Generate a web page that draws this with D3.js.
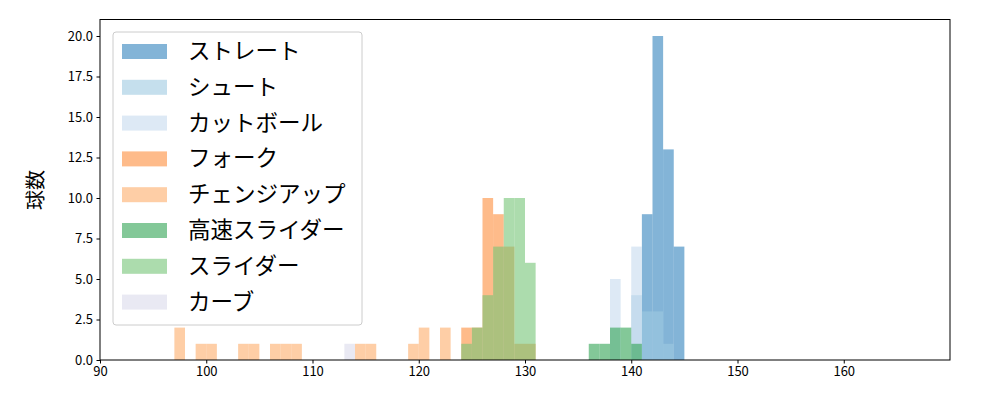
<!DOCTYPE html><html><head><meta charset="utf-8"><script src="https://cdn.jsdelivr.net/npm/d3@7"></script>
<style>body{margin:0;background:#fff}text{font-family:"Noto Sans CJK JP","DejaVu Sans",sans-serif}</style></head><body><svg id="c" width="1000" height="400"></svg><script>
const seriesNames=["ストレート","シュート","カットボール","フォーク","チェンジアップ","高速スライダー","スライダー","カーブ"];
const colors=["#3182bd","#9ecae1","#c6dbef","#fd8d3c","#fdae6b","#31a354","#74c476","#dadaeb"];
// bins [start, count], width 1 km/h
const straight=[[141,9],[142,20],[143,13],[144,7]];
const shoot=[[140,4],[141,3],[142,3],[143,1]];
const cutball=[[138,5],[140,7]];
const fork=[[124,2],[125,2],[126,10],[127,9],[128,7],[129,1],[130,1]];
const changeup=[[97,2],[99,1],[100,1],[103,1],[104,1],[106,1],[107,1],[108,1],[114,1],[115,1],[119,1],[120,2],[122,2]];
const hsSlider=[[136,1],[137,1],[138,2],[139,2],[140,1]];
const slider=[[124,1],[125,2],[126,4],[127,7],[128,10],[129,10],[130,6]];
const curve=[[113,1]];
const data=[straight,shoot,cutball,fork,changeup,hsSlider,slider,curve];
const xTicks=[90,100,110,120,130,140,150,160];
const yTicks=[0,2.5,5,7.5,10,12.5,15,17.5,20];
const svg=d3.select("#c");
const x=d3.scaleLinear().domain([90,170]).range([100,950]);
const y=d3.scaleLinear().domain([0,21]).range([360,19.8]);
data.forEach((s,i)=>{svg.append("g").selectAll("rect").data(s).join("rect")
 .attr("x",d=>x(d[0])).attr("width",d=>x(d[0]+1)-x(d[0])).attr("y",d=>y(d[1])).attr("height",d=>y(0)-y(d[1]))
 .attr("fill",colors[i]).attr("fill-opacity",0.6);});
svg.append("rect").attr("x",100).attr("y",19.5).attr("width",850).attr("height",340.5).attr("fill","none").attr("stroke","#000").attr("stroke-width",1);
const xa=svg.append("g").attr("transform","translate(0,360)").call(d3.axisBottom(x).tickValues(xTicks).tickSize(3.5).tickPadding(3.5));
const ya=svg.append("g").attr("transform","translate(100,0)").call(d3.axisLeft(y).tickValues(yTicks).tickFormat(d3.format(".1f")).tickSize(3.5).tickPadding(3.5));
[xa,ya].forEach(a=>{a.select(".domain").remove();a.selectAll("text").attr("font-size",13).attr("font-family","DejaVu Sans").attr("fill","#000");});
svg.append("text").attr("transform","translate(43,190) rotate(-90)").attr("text-anchor","middle").attr("font-size",20).text("球数");
const lg=svg.append("g");
lg.append("rect").attr("x",113).attr("y",32).attr("width",249).attr("height",293).attr("rx",3).attr("fill","#fff").attr("fill-opacity",0.8).attr("stroke","#ccc");
seriesNames.forEach((n,i)=>{const yy=51+i*35.8;
 lg.append("rect").attr("x",122).attr("y",yy-7).attr("width",45).attr("height",15).attr("fill",colors[i]).attr("fill-opacity",0.6);
 lg.append("text").attr("x",188).attr("y",yy+8).attr("font-size",22.5).text(n);});
</script></body></html>
